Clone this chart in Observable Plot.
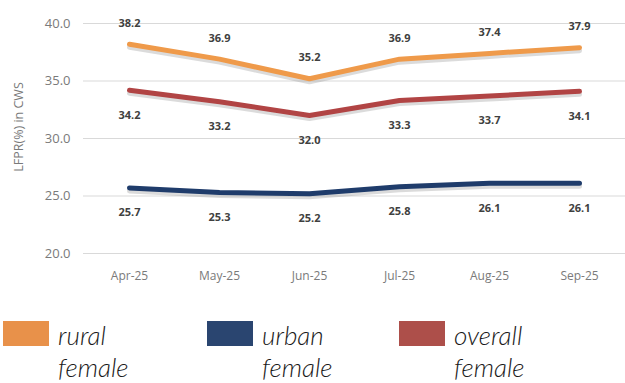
<!DOCTYPE html>
<html>
<head>
<meta charset="utf-8">
<script src="https://cdn.jsdelivr.net/npm/d3@7"></script>
<script src="https://cdn.jsdelivr.net/npm/@observablehq/plot@0.6"></script>
<style>
  html, body { margin: 0; padding: 0; background: #fff; }
  #chart { position: relative; width: 625px; height: 383px; overflow: hidden; }
  .legend { position: absolute; top: 321px; left: 0; width: 625px; height: 62px; }
  .item { position: absolute; top: 0; }
  .sw { position: absolute; top: 0; left: 0; width: 46px; height: 25px; }
  .lab { position: absolute; top: -2px; font-family: Lato, "Open Sans", sans-serif; font-style: italic; font-weight: 300; font-size: 26px; line-height: 32px; color: #1a1a1a; white-space: nowrap; }
</style>
</head>
<body>
<div id="chart"></div>
<script>
const months = ["Apr-25", "May-25", "Jun-25", "Jul-25", "Aug-25", "Sep-25"];
const rural = [38.2, 36.9, 35.2, 36.9, 37.4, 37.9];
const urban = [25.7, 25.3, 25.2, 25.8, 26.1, 26.1];
const overall = [34.2, 33.2, 32.0, 33.3, 33.7, 34.1];
const seriesNames = ["rural female", "urban female", "overall female"];
const yTicks = [20, 25, 30, 35, 40];
const yTitle = "LFPR(%) in CWS";

const colors = { "rural female": "#EF9A4A", "urban female": "#1F3C6B", "overall female": "#B14444" };
const legendColors = { "rural female": "#E8914A", "urban female": "#2A4570", "overall female": "#AD4F4A" };

const rows = [];
[rural, urban, overall].forEach((vals, i) => {
  vals.forEach((v, j) => rows.push({ series: seriesNames[i], month: months[j], value: v }));
});
const labelDy = { "rural female": -21, "urban female": 25, "overall female": 25 };

const plot = Plot.plot({
  width: 625,
  height: 300,
  marginLeft: 83,
  marginRight: 0,
  marginTop: 23,
  marginBottom: 47,
  style: { fontFamily: "'Open Sans', sans-serif", background: "#fff" },
  x: { type: "point", domain: months, range: [128, 580], padding: 0, label: null },
  y: { domain: [20, 40], ticks: yTicks, label: null },
  marks: [
    Plot.gridY(yTicks, { stroke: "#d9d9d9", strokeOpacity: 1, strokeWidth: 1 }),
    Plot.axisY(yTicks, { tickSize: 0, tickPadding: 13, tickFormat: d => d.toFixed(1), fontSize: 13, fill: "#7a7a7a", label: null }),
    Plot.text([{ t: yTitle, v: 31 }], { y: "v", text: "t", frameAnchor: "left", textAnchor: "middle", dx: -65, rotate: -90, fontSize: 12.5, fill: "#7a7a7a" }),
    Plot.axisX({ tickSize: 0, tickPadding: 18, fontSize: 12, fill: "#7a7a7a", label: null }),
    Plot.line(rows, { x: "month", y: "value", z: "series", stroke: "#888", strokeOpacity: 0.3, strokeWidth: 5, dy: 3 }),
    Plot.line(rows, { x: "month", y: "value", z: "series", stroke: d => colors[d.series], strokeWidth: 5, strokeLinecap: "round" }),
    ...seriesNames.map(s => Plot.text(rows.filter(r => r.series === s), {
      x: "month", y: "value", text: d => d.value.toFixed(1), dy: labelDy[s],
      fontSize: 11, fontWeight: "bold", fill: "#404040"
    }))
  ]
});
const chart = document.getElementById("chart");
chart.appendChild(plot);

const legend = document.createElement("div");
legend.className = "legend";
const lefts = [3, 207, 399];
seriesNames.forEach((s, i) => {
  const item = document.createElement("div");
  item.className = "item";
  item.style.left = lefts[i] + "px";
  const sw = document.createElement("div");
  sw.className = "sw";
  sw.style.background = legendColors[s];
  const lab = document.createElement("div");
  lab.className = "lab";
  lab.style.left = "55px";
  const parts = s.split(" ");
  lab.innerHTML = parts[0] + "<br>" + parts[1];
  item.appendChild(sw);
  item.appendChild(lab);
  legend.appendChild(item);
});
chart.appendChild(legend);
</script>
</body>
</html>
